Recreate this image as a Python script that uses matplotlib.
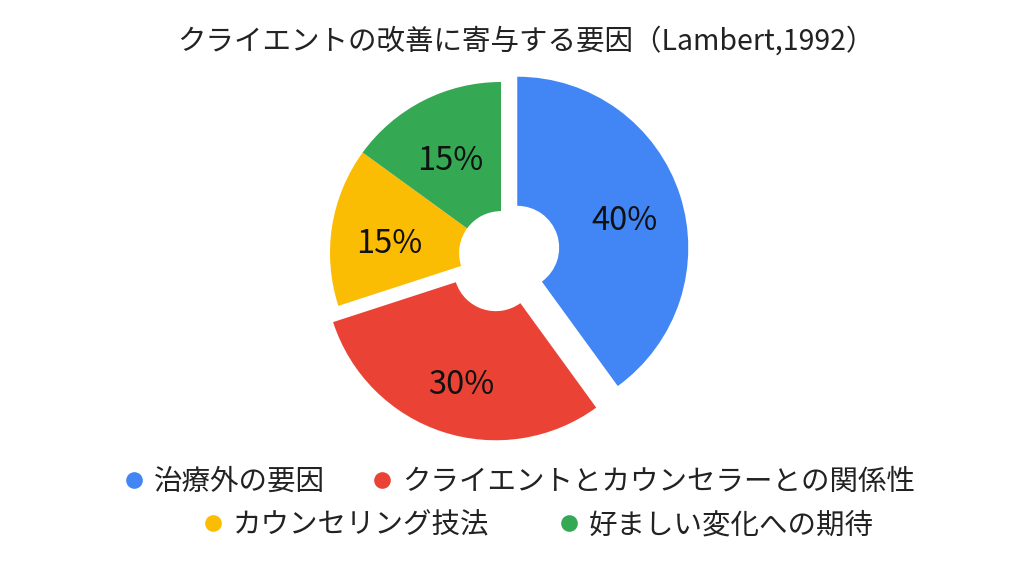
import matplotlib
matplotlib.use("Agg")
import matplotlib.pyplot as plt
from matplotlib.lines import Line2D

plt.rcParams['font.family'] = ['Noto Sans CJK JP', 'DejaVu Sans']

title = "クライエントの改善に寄与する要因（Lambert,1992）"
labels = ["治療外の要因", "クライエントとカウンセラーとの関係性",
          "カウンセリング技法", "好ましい変化への期待"]
values = [40, 30, 15, 15]
colors = ["#4285F4", "#EA4335", "#FBBC04", "#34A853"]
explode = [0.1, 0.1, 0, 0]

fig = plt.figure(figsize=(10.24, 5.76), dpi=100)

# pie radius 1 -> 171 px, centred near (501, 253) from the top-left
size = 3 * 171
cx, cy = 501, 576 - 253
ax = fig.add_axes([(cx - size / 2) / 1024, (cy - size / 2) / 576, size / 1024, size / 576])

wedges, texts, autotexts = ax.pie(
    values, colors=colors, explode=explode, startangle=90, counterclock=False,
    autopct=lambda p: f"{p:.0f}%", pctdistance=0.66,
    wedgeprops=dict(width=0.755, linewidth=0),
    textprops=dict(fontsize=23.5, color="#111111"),
)
# the CJK font sits a bit high when centred, nudge the labels down
for t in autotexts:
    x, y = t.get_position()
    t.set_position((x, y - 0.05))

# pie() resets the limits, so set them afterwards
ax.set_xlim(-1.5, 1.5)
ax.set_ylim(-1.5, 1.5)
ax.set_aspect('equal')
ax.axis('off')

fig.text(0.514, 0.927, title, ha='center', va='center', fontsize=20.5, color="#222222")

handles = [Line2D([], [], linestyle='', marker='o', markersize=12,
                  markerfacecolor=c, markeredgewidth=0) for c in colors]
legend_kw = dict(loc='center', ncol=2, frameon=False, fontsize=20.5,
                 handlelength=0.8, handletextpad=0.3, labelcolor="#222222")
leg1 = fig.legend(handles[:2], labels[:2], bbox_to_anchor=(0.507, 0.163),
                  columnspacing=1.6, **legend_kw)
leg2 = fig.legend(handles[2:], labels[2:], bbox_to_anchor=(0.525, 0.088),
                  columnspacing=2.4, **legend_kw)

fig.savefig("out.png", dpi=100)
